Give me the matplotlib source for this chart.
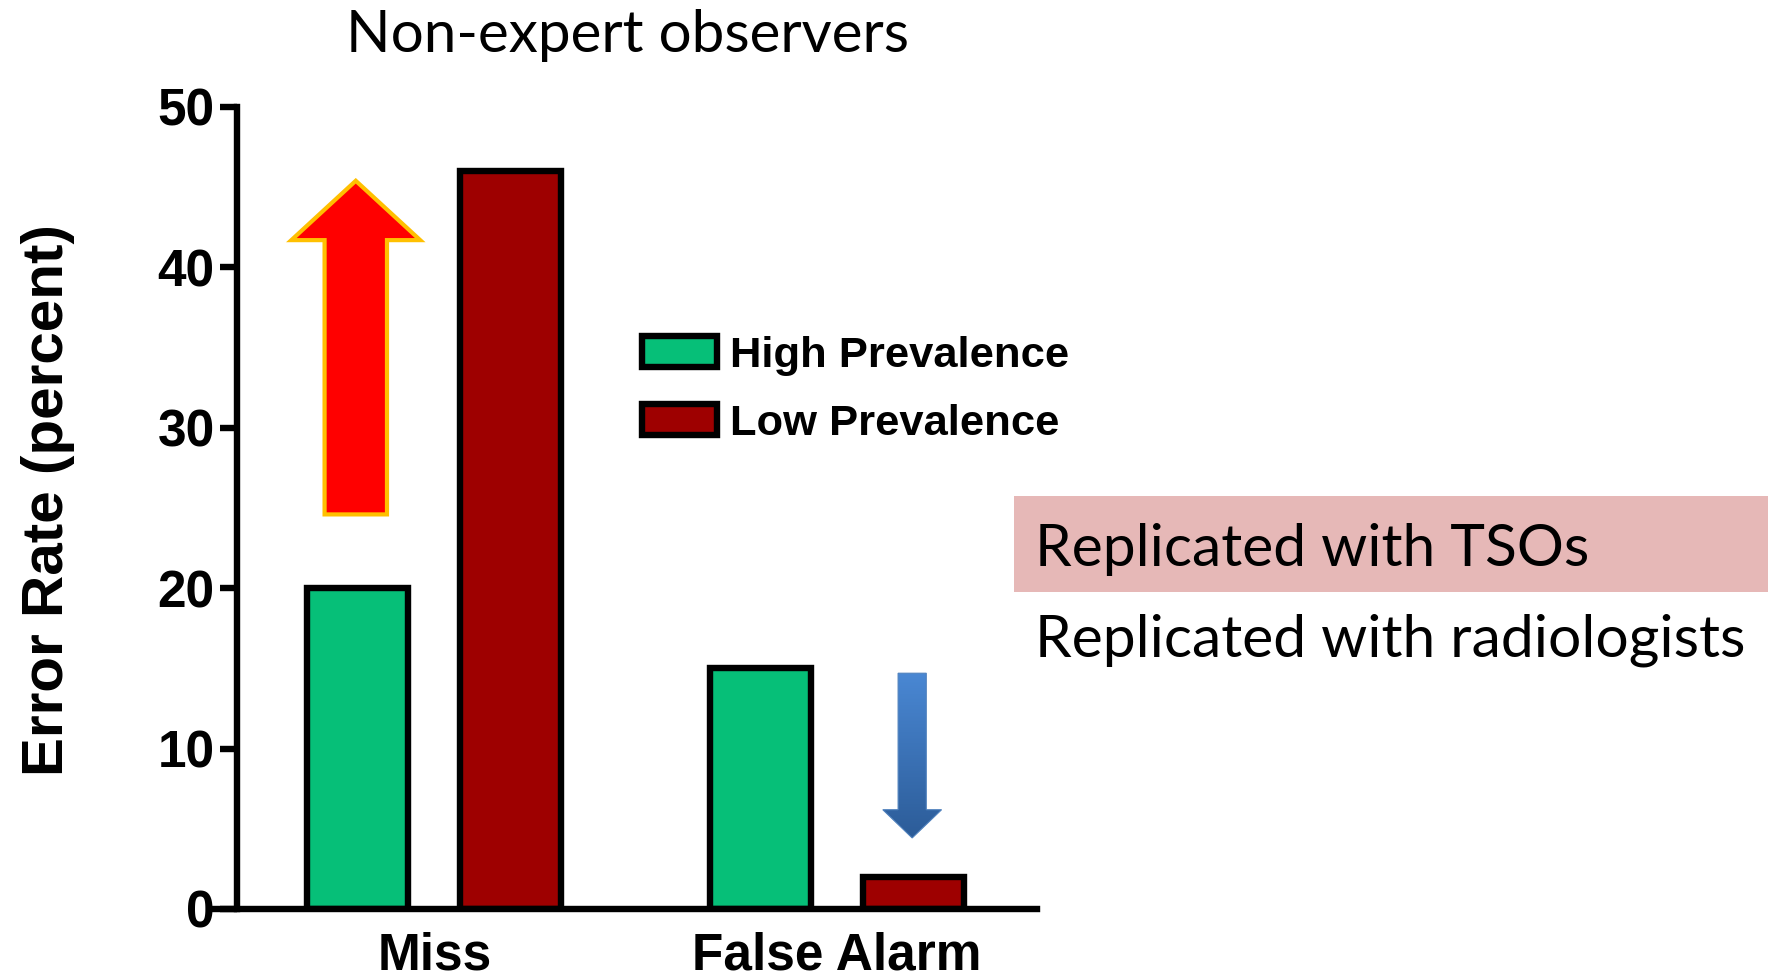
import matplotlib

matplotlib.use("Agg")
import matplotlib.pyplot as plt
import numpy as np
from matplotlib.patches import FancyArrow, Rectangle

# 数据
categories = ["Miss", "False Alarm"]
series_names = ["High Prevalence", "Low Prevalence"]
high_prevalence = [20.0, 15.0]
low_prevalence = [46.0, 2.0]
y_ticks = [0, 10, 20, 30, 40, 50]

title_text = "Non-expert observers"
y_label = "Error Rate (percent)"
notes = ["Replicated with TSOs", "Replicated with radiologists"]

GREEN = "#06BF78"
DARK_RED = "#9E0000"
PINK = "#E6B8B7"

W, H = 1768, 973
fig = plt.figure(figsize=(W / 100, H / 100), dpi=100)
ax = fig.add_axes([237 / W, 1 - 909 / H, 800 / W, 802 / H])

x = np.arange(len(categories))
offset = 0.19
bar_w = 0.25
edge_lw = 4.6

bars_high = ax.bar(x - offset, high_prevalence, bar_w, color=GREEN,
                   edgecolor="black", linewidth=edge_lw, label=series_names[0],
                   zorder=3)
bars_low = ax.bar(x + offset, low_prevalence, bar_w, color=DARK_RED,
                  edgecolor="black", linewidth=edge_lw, label=series_names[1],
                  zorder=3)

ax.set_xlim(-0.49, 1.497)
ax.set_ylim(0, 50)
ax.set_yticks(y_ticks)
ax.set_yticklabels([str(v) for v in y_ticks], fontsize=37, fontweight="bold",
                   family="Liberation Sans")
ax.set_xticks(x)
ax.set_xticklabels(categories, fontsize=37, fontweight="bold",
                   family="Liberation Sans")
ax.tick_params(axis="y", length=12, width=4.6, pad=4)
ax.tick_params(axis="x", length=0, pad=16)
for side in ("top", "right"):
    ax.spines[side].set_visible(False)
for side in ("left", "bottom"):
    ax.spines[side].set_linewidth(4.6)
    ax.spines[side].set_zorder(4)
ax.spines["bottom"].set_bounds(-0.545, 1.497)
ax.patch.set_visible(False)

ax.set_ylabel(y_label, fontsize=42, fontweight="bold", family="Liberation Sans")
ax.yaxis.set_label_coords(-0.203, 0.51)

# 红色向上箭头（Miss 的高患病率柱上方）
up = FancyArrow(-0.195, 24.6, 0, 45.4 - 24.6, width=0.155, head_width=0.32,
                head_length=3.7, length_includes_head=True,
                facecolor="#FF0000", edgecolor="#FFC000", linewidth=3, zorder=2)
ax.add_patch(up)

# 蓝色向下箭头，渐变填充
down = FancyArrow(1.187, 14.7, 0, 4.43 - 14.7, width=0.07, head_width=0.146,
                  head_length=1.76, length_includes_head=True,
                  facecolor="none", edgecolor="#4F81BD", linewidth=0.8, zorder=3)
ax.add_patch(down)
grad = np.linspace(0, 1, 256).reshape(-1, 1)
cmap = matplotlib.colors.LinearSegmentedColormap.from_list(
    "blue_grad", ["#2C5C98", "#4A88D4"])
img = ax.imshow(grad, cmap=cmap, extent=(1.1, 1.28, 4.4, 14.8), origin="lower",
                aspect="auto", zorder=2)
img.set_clip_path(down)

leg = ax.legend(handles=[bars_high, bars_low], loc="upper left",
                bbox_to_anchor=(620 / W, 1 - 314 / H),
                bbox_transform=fig.transFigure, frameon=False,
                prop={"family": "Liberation Sans", "weight": "bold", "size": 31.3},
                handlelength=1.74, handleheight=0.72, handletextpad=0.3,
                labelspacing=0.64, borderpad=0)

fig.text(628 / W, 1 - 36 / H, title_text, fontsize=42, family="Lato",
         ha="center", va="center")

fig.patches.append(Rectangle((1014 / W, 1 - 592 / H), (W - 1014) / W, 96 / H,
                             transform=fig.transFigure, facecolor=PINK,
                             edgecolor="none", zorder=0))
fig.text(1035 / W, 1 - 550 / H, notes[0], fontsize=42.3, family="Lato",
         ha="left", va="center")
fig.text(1035 / W, 1 - 640 / H, notes[1], fontsize=42.3, family="Lato",
         ha="left", va="center")

fig.savefig("out.png", dpi=100)
